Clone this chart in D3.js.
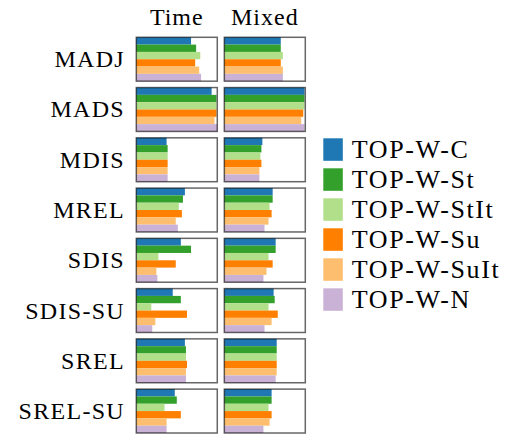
<!DOCTYPE html>
<html lang="en">
<head>
  <meta charset="UTF-8" />
  <title>Small multiples: Time vs Mixed</title>
  <script src="https://d3js.org/d3.v7.min.js"></script>
  <style>
    body { margin: 0; background: white; }
  </style>
</head>
<body>
<svg id="chart" width="510" height="435"></svg>
<script>
const width = 510, height = 435;
const serif = "Liberation Serif";

// Data
const metrics = ['MADJ', 'MADS', 'MDIS', 'MREL', 'SDIS', 'SDIS-SU', 'SREL', 'SREL-SU'];
const panels = ['Time', 'Mixed'];
const series = ['TOP-W-C', 'TOP-W-St', 'TOP-W-StIt', 'TOP-W-Su', 'TOP-W-SuIt', 'TOP-W-N'];
const colors = ['#1f78b4', '#33a02c', '#b2df8a', '#ff7f00', '#fdbf6f', '#cab2d6'];

// one row per metric, one value per series
const timeValues = [
  [0.676, 0.739, 0.790, 0.727, 0.777, 0.800],
  [0.930, 0.990, 0.990, 0.990, 0.966, 1.000],
  [0.374, 0.387, 0.387, 0.387, 0.387, 0.387],
  [0.600, 0.576, 0.525, 0.563, 0.487, 0.513],
  [0.550, 0.676, 0.273, 0.487, 0.248, 0.260],
  [0.450, 0.550, 0.185, 0.626, 0.235, 0.197],
  [0.600, 0.613, 0.613, 0.626, 0.613, 0.613],
  [0.475, 0.500, 0.349, 0.550, 0.374, 0.374]
];
const mixedValues = [
  [0.697, 0.697, 0.723, 0.697, 0.723, 0.723],
  [0.990, 0.990, 0.990, 0.975, 0.950, 0.990],
  [0.470, 0.458, 0.445, 0.458, 0.433, 0.433],
  [0.597, 0.597, 0.559, 0.584, 0.546, 0.496],
  [0.634, 0.634, 0.546, 0.597, 0.521, 0.483],
  [0.609, 0.622, 0.546, 0.660, 0.584, 0.496],
  [0.647, 0.647, 0.647, 0.647, 0.647, 0.634],
  [0.584, 0.584, 0.546, 0.584, 0.559, 0.483]
];
const panelValues = { 'Time': timeValues, 'Mixed': mixedValues };

const svg = d3.select("#chart")
  .attr("width", width)
  .attr("height", height);

// Scales
const row = d3.scaleBand().domain(metrics).range([37.3, 433]).paddingInner(0.127);
const col = d3.scaleBand().domain(panels).range([136.3, 305.3]).paddingInner(0.08);
const x = d3.scaleLinear().domain([0, 1]).range([0, col.bandwidth()]);
const inner = d3.scaleBand().domain(series).range([0, row.bandwidth()]);
const color = d3.scaleOrdinal().domain(series).range(colors);

// Column titles
svg.selectAll("text.title")
  .data(panels)
  .enter().append("text")
  .attr("class", "title")
  .attr("x", d => col(d) + col.bandwidth() / 2)
  .attr("y", 25)
  .attr("text-anchor", "middle")
  .attr("font-family", serif)
  .attr("font-size", 24)
  .attr("letter-spacing", 1)
  .text(d => d);

// Row labels
svg.selectAll("text.label")
  .data(metrics)
  .enter().append("text")
  .attr("class", "label")
  .attr("x", 125)
  .attr("y", d => row(d) + row.bandwidth() / 2 + 8)
  .attr("text-anchor", "end")
  .attr("font-family", serif)
  .attr("font-size", 24)
  .attr("letter-spacing", 1.3)
  .text(d => d);

// Panels
metrics.forEach((m, i) => {
  panels.forEach(p => {
    const g = svg.append("g")
      .attr("transform", `translate(${col(p)},${row(m)})`);

    g.selectAll("rect.bar")
      .data(panelValues[p][i].map((v, j) => ({ s: series[j], v })))
      .enter().append("rect")
      .attr("class", "bar")
      .attr("x", 0)
      .attr("y", d => inner(d.s))
      .attr("width", d => x(d.v))
      .attr("height", inner.bandwidth())
      .attr("fill", d => color(d.s));

    g.append("rect")
      .attr("width", col.bandwidth())
      .attr("height", row.bandwidth())
      .attr("fill", "none")
      .attr("stroke", "#000")
      .attr("stroke-opacity", 0.6)
      .attr("stroke-width", 1.5);
  });
});

// Legend
const legend = svg.append("g")
  .attr("transform", "translate(323.3,138.3)");

const items = legend.selectAll("g")
  .data(series)
  .enter().append("g")
  .attr("transform", (d, i) => `translate(0,${i * 30})`);

items.append("rect")
  .attr("width", 19.5)
  .attr("height", 22.5)
  .attr("fill", d => color(d));

items.append("text")
  .attr("x", 28.5)
  .attr("y", 20)
  .attr("font-family", serif)
  .attr("font-size", 26)
  .attr("letter-spacing", 1.6)
  .text(d => d);
</script>
</body>
</html>
